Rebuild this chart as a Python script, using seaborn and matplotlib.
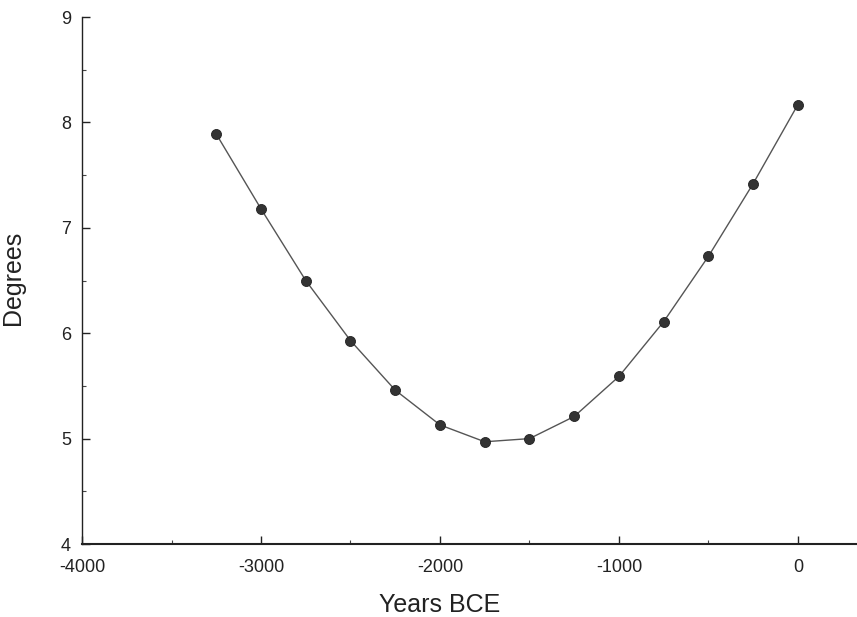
import matplotlib
matplotlib.use("Agg")
import matplotlib.pyplot as plt
import seaborn as sns
import pandas as pd
from matplotlib.ticker import MultipleLocator

# values
years = [-3250, -3000, -2750, -2500, -2250, -2000, -1750, -1500, -1250, -1000, -750, -500, -250, 0]
degrees = [7.89, 7.18, 6.50, 5.93, 5.46, 5.13, 4.97, 5.00, 5.21, 5.59, 6.11, 6.73, 7.42, 8.17]
x_ticks = [-4000, -3000, -2000, -1000, 0]
y_ticks = [4, 5, 6, 7, 8, 9]

df = pd.DataFrame({'Years BCE': years, 'Degrees': degrees})

sns.set_style('ticks')
plt.rcParams['font.family'] = ['Liberation Sans', 'DejaVu Sans']
plt.rcParams['axes.unicode_minus'] = False

fig = plt.figure(figsize=(8.57, 6.17), dpi=100)
ax = fig.add_axes([0.0957, 0.1183, 0.9043, 0.8541])

sns.lineplot(data=df, x='Years BCE', y='Degrees', ax=ax, color='#555555',
             linewidth=1.0, zorder=1)
sns.scatterplot(data=df, x='Years BCE', y='Degrees', ax=ax, color='#333333',
                s=52, edgecolor='#222222', linewidth=0.6, zorder=2)

ax.set_xlim(-4000, 330)
ax.set_ylim(4, 9)
ax.set_xticks(x_ticks)
ax.set_yticks(y_ticks)
ax.xaxis.set_minor_locator(MultipleLocator(500))
ax.yaxis.set_minor_locator(MultipleLocator(0.5))
ax.tick_params(which='major', direction='in', length=6, width=1, labelsize=13,
               color='#222222', labelcolor='#222222')
ax.tick_params(which='minor', direction='in', length=3, width=0.8, color='#444444')
ax.tick_params(axis='x', pad=11)
ax.tick_params(axis='y', pad=8)

sns.despine(ax=ax)
ax.spines['left'].set_linewidth(1.0)
ax.spines['bottom'].set_linewidth(1.5)
ax.spines['left'].set_color('#222222')
ax.spines['bottom'].set_color('#222222')

ax.set_xlabel('Years BCE', fontsize=18, color='#222222')
ax.set_ylabel('Degrees', fontsize=18, color='#222222')
ax.xaxis.set_label_coords(0.462, -0.093)
ax.yaxis.set_label_coords(-0.073, 0.505)

fig.savefig('out.png', dpi=100)
